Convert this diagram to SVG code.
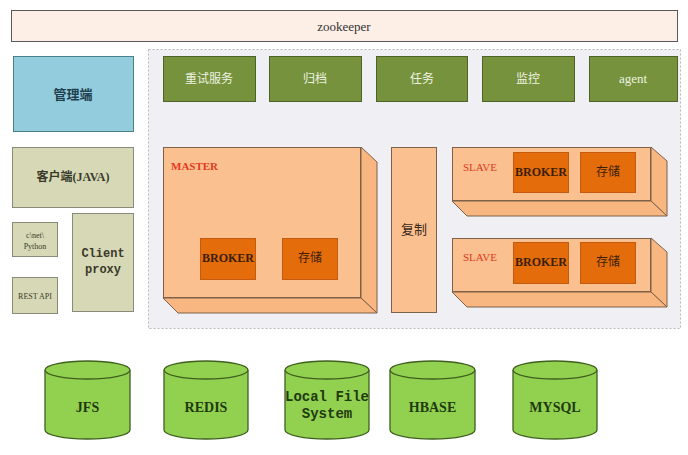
<svg xmlns="http://www.w3.org/2000/svg" width="688" height="455" viewBox="0 0 688 455">
<style>
text{text-anchor:middle;dominant-baseline:central;font-family:"Liberation Serif","Noto Sans CJK SC",serif}
.mono{font-family:"Liberation Mono","DejaVu Sans Mono",monospace}
.green rect{fill:#76923c;stroke:#4f6228;stroke-width:1}
.green text{fill:#eef2e2;font-size:12px}
.client rect{fill:#d7d9b6;stroke:#8a8a7a;stroke-width:1}
.client text{fill:#3a3a2a}
.peach{fill:#fac08f;stroke:#7f6048;stroke-width:1}
.peachside{fill:#f8b680;stroke:#7f6048;stroke-width:1}
.dark rect{fill:#e46c0a;stroke:#c55a11;stroke-width:1}
.dark text{fill:#3b1e08;font-size:12px}
.broker{font-weight:bold;font-size:11px}
.lbl{fill:#e03a22;font-size:11px;text-anchor:start}
.cyl path{fill:#92d050;stroke:#3f5f1f;stroke-width:1.3}
.cyl text{fill:#1f3a0f;font-size:14px;font-weight:bold}
</style>
<rect width="688" height="455" fill="#ffffff"/>

<g id="zookeeper">
<rect x="11.5" y="10.5" width="666" height="31" fill="#fdeee6" stroke="#595959"/>
<text x="344" y="26" font-size="13" fill="#333">zookeeper</text>
</g>

<g id="panel">
<rect x="148.5" y="49.5" width="532" height="279" fill="#f0f0f4" stroke="#b8b8bc" stroke-dasharray="2,2"/>
</g>

<g id="admin">
<rect x="13.5" y="56.5" width="120" height="75" fill="#93cddd" stroke="#4a7f8c"/>
<text x="73" y="94" font-size="13" font-weight="bold" fill="#1f3f4f">管理端</text>
</g>

<g id="retry" class="green"><rect x="163.5" y="56.5" width="92" height="45"/><text x="209" y="79">重试服务</text></g>
<g id="archive" class="green"><rect x="269.5" y="56.5" width="92" height="45"/><text x="315" y="79">归档</text></g>
<g id="task" class="green"><rect x="376.5" y="56.5" width="91" height="45"/><text x="422" y="79">任务</text></g>
<g id="monitor" class="green"><rect x="482.5" y="56.5" width="92" height="45"/><text x="528" y="79">监控</text></g>
<g id="agent" class="green"><rect x="589.5" y="56.5" width="88" height="45"/><text x="633" y="78" style="font-size:13px">agent</text></g>

<g id="client-java" class="client"><rect x="12.5" y="147.5" width="121" height="60"/><text x="73" y="177" font-size="12" font-weight="bold">客户端(JAVA)</text></g>
<g id="client-python" class="client"><rect x="12.5" y="222.5" width="45" height="34"/><text x="35" y="235" font-size="8">c\net\</text><text x="35" y="246" font-size="8">Python</text></g>
<g id="rest-api" class="client"><rect x="12.5" y="277.5" width="45" height="36"/><text x="35" y="296" font-size="8">REST API</text></g>
<g id="client-proxy" class="client"><rect x="72.5" y="213.5" width="61" height="98"/><text x="103" y="254" class="mono" font-size="12" font-weight="bold">Client</text><text x="103" y="270" class="mono" font-size="12" font-weight="bold">proxy</text></g>

<g id="master">
<polygon class="peachside" points="361,147 377,162 377,313 361,298"/>
<polygon class="peachside" points="163,298 361,298 377,313 178,313"/>
<rect class="peach" x="163.5" y="147.5" width="197" height="150"/>
<text class="lbl" x="171" y="166" font-weight="bold" font-size="10">MASTER</text>
</g>
<g id="master-broker" class="dark"><rect x="200.5" y="238.5" width="55" height="41"/><text class="broker" x="228" y="258">BROKER</text></g>
<g id="master-storage" class="dark"><rect x="282.5" y="238.5" width="55" height="41"/><text x="310" y="258">存储</text></g>

<g id="replicate">
<rect class="peach" x="391.5" y="147.5" width="45" height="165"/>
<text x="414" y="229" font-size="13" fill="#3b2a1a">复制</text>
</g>

<g id="slave1">
<polygon class="peachside" points="651,147 667,161 667,216 651,201"/>
<polygon class="peachside" points="452,201 651,201 667,216 467,216"/>
<rect class="peach" x="452.5" y="147.5" width="198" height="53"/>
<text class="lbl" x="463" y="167">SLAVE</text>
</g>
<g id="slave1-broker" class="dark"><rect x="513.5" y="152.5" width="55" height="40"/><text class="broker" x="541" y="172">BROKER</text></g>
<g id="slave1-storage" class="dark"><rect x="580.5" y="152.5" width="55" height="40"/><text x="608" y="172">存储</text></g>

<g id="slave2">
<polygon class="peachside" points="651,238 667,252 667,307 651,292"/>
<polygon class="peachside" points="452,292 651,292 667,307 467,307"/>
<rect class="peach" x="452.5" y="238.5" width="198" height="53"/>
<text class="lbl" x="463" y="257">SLAVE</text>
</g>
<g id="slave2-broker" class="dark"><rect x="513.5" y="242.5" width="55" height="41"/><text class="broker" x="541" y="262">BROKER</text></g>
<g id="slave2-storage" class="dark"><rect x="580.5" y="242.5" width="55" height="41"/><text x="608" y="262">存储</text></g>

<g id="jfs" class="cyl">
<path d="M45,370 A42.5,9 0 0 1 130,370 V430 A42.5,9 0 0 1 45,430 Z"/>
<path d="M45,370 A42.5,9 0 0 0 130,370" fill="none"/>
<text x="87.5" y="407">JFS</text>
</g>
<g id="redis" class="cyl">
<path d="M164,370 A42,9 0 0 1 248,370 V430 A42,9 0 0 1 164,430 Z"/>
<path d="M164,370 A42,9 0 0 0 248,370" fill="none"/>
<text x="206" y="407">REDIS</text>
</g>
<g id="localfs" class="cyl">
<path d="M285,370 A42,9 0 0 1 369,370 V430 A42,9 0 0 1 285,430 Z"/>
<path d="M285,370 A42,9 0 0 0 369,370" fill="none"/>
<text x="327" y="397" class="mono" font-size="13">Local File</text>
<text x="327" y="414" class="mono" font-size="13">System</text>
</g>
<g id="hbase" class="cyl">
<path d="M390,370 A42.5,9 0 0 1 475,370 V430 A42.5,9 0 0 1 390,430 Z"/>
<path d="M390,370 A42.5,9 0 0 0 475,370" fill="none"/>
<text x="432.5" y="407">HBASE</text>
</g>
<g id="mysql" class="cyl">
<path d="M513,370 A42,9 0 0 1 597,370 V430 A42,9 0 0 1 513,430 Z"/>
<path d="M513,370 A42,9 0 0 0 597,370" fill="none"/>
<text x="555" y="407">MYSQL</text>
</g>

<g id="connectors"></g>
</svg>
